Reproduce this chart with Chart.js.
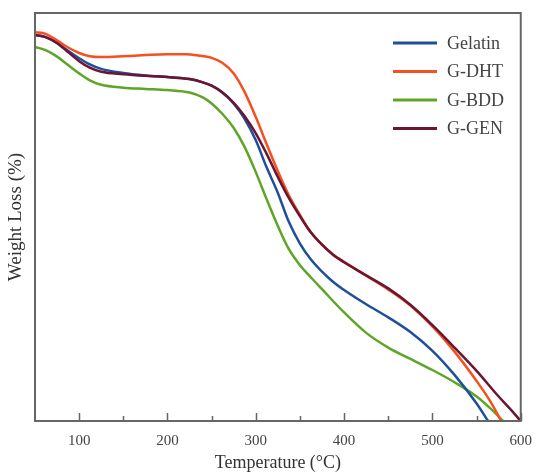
<!DOCTYPE html>
<html>
<head>
<meta charset="utf-8">
<script src="https://cdn.jsdelivr.net/npm/chart.js@4"></script>
<style>
  html, body { margin: 0; padding: 0; background: #fff; }
  #wrap { width: 543px; height: 472px; }
</style>
</head>
<body>
<div id="wrap"><canvas id="myChart"></canvas></div>
<script>
// temperature (°C) / relative weight readings per sample
const gelatinT = [50, 62, 75, 87, 100, 112, 125, 150, 175, 200, 225, 240, 250, 262, 275, 287, 300, 312, 325, 337, 350, 362, 375, 387, 400, 425, 450, 475, 500, 525, 550, 563]
const gelatinW = [94.6, 94.1, 92.7, 90.8, 88.9, 87.4, 86.3, 85.3, 84.7, 84.3, 83.8, 83.0, 82.2, 80.5, 77.8, 74.2, 68.8, 62.3, 55.9, 49.0, 43.5, 39.7, 36.6, 34.2, 32.1, 28.6, 25.4, 21.8, 17.2, 11.3, 4.3, 0]

const dhtT = [50, 62, 75, 87, 100, 112, 125, 150, 175, 200, 220, 235, 250, 262, 275, 287, 300, 312, 325, 337, 350, 362, 375, 387, 400, 425, 450, 475, 500, 525, 550, 565, 578]
const dhtW = [95.3, 94.9, 93.3, 91.6, 90.2, 89.4, 89.2, 89.4, 89.7, 89.9, 89.9, 89.6, 89.0, 87.8, 85.2, 80.8, 74.5, 68.0, 61.2, 55.5, 50.5, 46.4, 43.2, 40.9, 39.0, 35.6, 32.2, 28.3, 23.2, 17.0, 9.8, 5.0, 0]

const bddT = [50, 62, 75, 87, 100, 112, 125, 150, 175, 200, 225, 240, 250, 262, 275, 287, 300, 312, 325, 337, 350, 362, 375, 400, 425, 450, 475, 500, 525, 550, 565, 580]
const bddW = [91.7, 90.9, 89.3, 87.3, 85.2, 83.5, 82.4, 81.7, 81.4, 81.1, 80.5, 79.3, 77.8, 75.3, 71.8, 67.3, 61.0, 54.5, 47.8, 42.3, 38.2, 35.3, 32.3, 26.6, 21.6, 18.0, 15.2, 12.5, 9.5, 6.0, 3.2, 0]

const genT = [50, 62, 75, 87, 100, 112, 125, 150, 175, 200, 225, 240, 250, 262, 275, 287, 300, 312, 325, 337, 350, 362, 375, 387, 400, 425, 450, 475, 500, 525, 550, 575, 590, 600]
const genW = [94.6, 94.1, 92.6, 90.5, 88.2, 86.6, 85.6, 85.0, 84.6, 84.3, 83.8, 83.0, 82.2, 80.6, 78.0, 74.8, 70.5, 65.6, 59.8, 54.8, 50.2, 46.3, 43.2, 40.8, 38.9, 35.7, 32.5, 28.5, 23.5, 18.0, 12.3, 6.0, 2.5, 0]

const seriesNames = ['Gelatin', 'G-DHT', 'G-BDD', 'G-GEN']
const seriesColors = ['#1f4f9c', '#f5501f', '#5ea528', '#6b1531']
const seriesT = [gelatinT, dhtT, bddT, genT]
const seriesW = [gelatinW, dhtW, bddW, genW]
const drawOrder = [2, 1, 3, 0] // lower = drawn on top

const majorTicks = [100, 200, 300, 400, 500, 600]
const minorTicks = [150, 250, 350, 450, 550]

const serif = "'Liberation Serif', 'DejaVu Serif', serif"

// border box, inward ticks and in-plot legend
const framePlugin = {
  id: 'frame',
  afterDatasetsDraw(chart) {
    const { ctx, chartArea: a, scales: { x } } = chart
    ctx.save()
    ctx.strokeStyle = '#666'
    ctx.lineWidth = 2
    ctx.strokeRect(a.left, a.top, a.right - a.left, a.bottom - a.top)
    ctx.lineWidth = 1.5
    majorTicks.concat(minorTicks).forEach(v => {
      const px = Math.round(x.getPixelForValue(v)) + 0.5
      const len = majorTicks.includes(v) ? 8 : 5
      ctx.beginPath()
      ctx.moveTo(px, a.bottom)
      ctx.lineTo(px, a.bottom - len)
      ctx.stroke()
    })

    ctx.font = '18px ' + serif
    ctx.textBaseline = 'middle'
    chart.data.datasets.forEach((ds, i) => {
      const y = 43 + i * 28.5
      ctx.strokeStyle = ds.borderColor
      ctx.lineWidth = 3
      ctx.beginPath()
      ctx.moveTo(393, y)
      ctx.lineTo(437, y)
      ctx.stroke()
      ctx.fillStyle = '#444'
      ctx.fillText(ds.label, 447, y + 1)
    })
    ctx.restore()
  }
}

const config = {
  type: 'line',
  data: {
    datasets: seriesNames.map((name, i) => ({
      label: name,
      order: drawOrder[i],
      borderColor: seriesColors[i],
      backgroundColor: seriesColors[i],
      data: seriesT[i].map((t, j) => ({ x: t, y: seriesW[i][j] }))
    }))
  },
  options: {
    responsive: true,
    maintainAspectRatio: false,
    animation: false,
    layout: { padding: { top: 13, right: 18, left: 0, bottom: 0 } },
    elements: {
      point: { radius: 0 },
      line: { borderWidth: 2.5, cubicInterpolationMode: 'monotone' }
    },
    plugins: {
      legend: { display: false },
      tooltip: { enabled: false }
    },
    scales: {
      x: {
        type: 'linear',
        min: 50,
        max: 600,
        afterBuildTicks: s => { s.ticks = majorTicks.map(v => ({ value: v })) },
        afterFit: s => { s.height = 51 },
        grid: { display: false, drawTicks: false },
        border: { display: false },
        ticks: {
          padding: 11,
          color: '#444',
          font: { family: serif, size: 15 },
          maxRotation: 0
        },
        title: {
          display: true,
          text: 'Temperature (°C)',
          color: '#333',
          font: { family: serif, size: 18, lineHeight: 1 },
          padding: 0
        }
      },
      y: {
        min: 0,
        max: 100,
        afterFit: s => { s.width = 35 },
        grid: { display: false, drawTicks: false },
        border: { display: false },
        ticks: { display: false },
        title: {
          display: true,
          text: 'Weight Loss (%)',
          color: '#333',
          font: { family: serif, size: 19, lineHeight: 1.2 },
          padding: { top: 5, bottom: 0 }
        }
      }
    }
  },
  plugins: [framePlugin]
}

const myChart = new Chart(document.getElementById('myChart'), config)
</script>
</body>
</html>
